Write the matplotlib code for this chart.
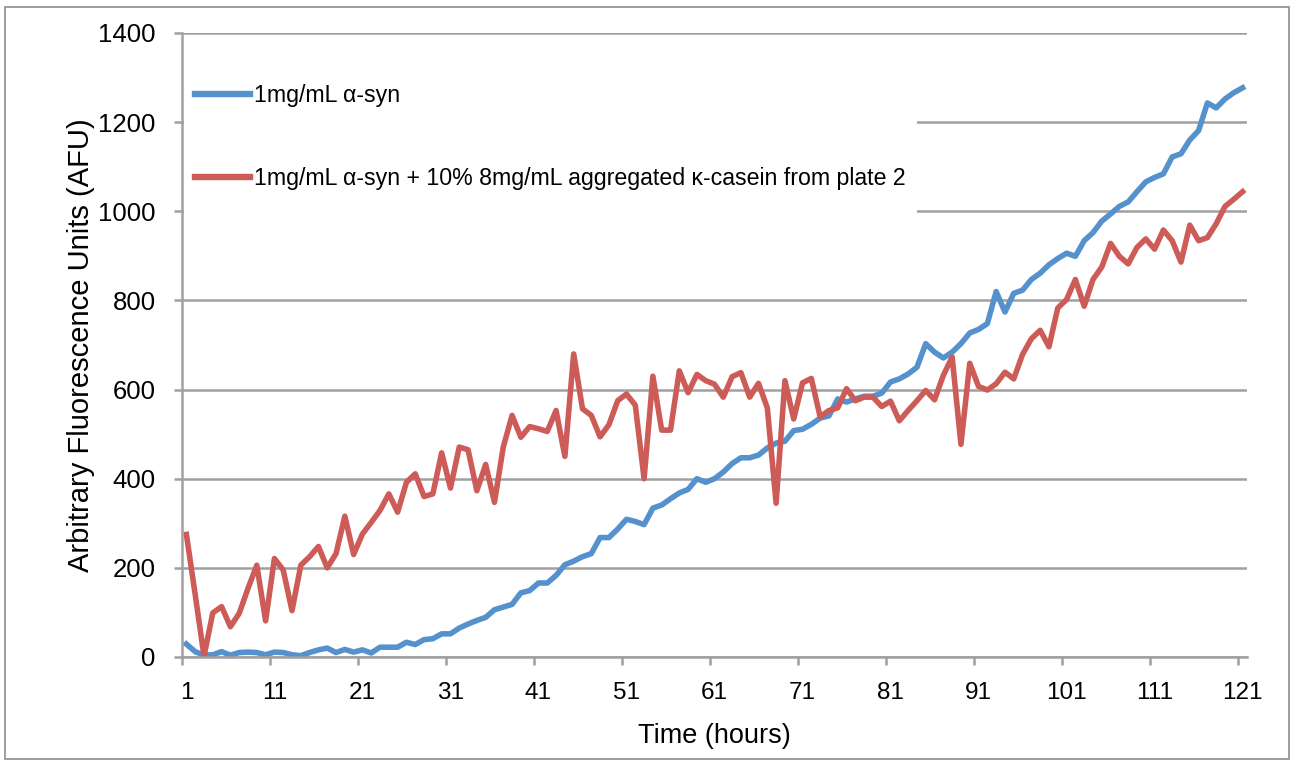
import numpy as np
import matplotlib
matplotlib.use("Agg")
import matplotlib.pyplot as plt
import matplotlib.transforms as mtransforms
from matplotlib.patches import Rectangle

plt.rcParams['font.family'] = ['Liberation Sans', 'DejaVu Sans']

# hours 1..121
hours = np.arange(1, 122)

asyn = [29, 12, 4, 5, 12, 4, 10, 11, 10, 5,
        11, 10, 5, 3, 10, 16, 20, 10, 17, 11,
        16, 9, 22, 22, 22, 33, 28, 39, 41, 52,
        52, 65, 74, 82, 89, 106, 112, 118, 144, 149,
        166, 166, 183, 207, 215, 225, 232, 268, 268, 287,
        309, 304, 297, 334, 341, 355, 368, 376, 400, 392,
        400, 415, 434, 447, 447, 453, 469, 480, 484, 508,
        511, 522, 536, 541, 579, 572, 579, 585, 585, 592,
        617, 624, 635, 650, 703, 684, 671, 684, 703, 727,
        735, 748, 820, 774, 816, 823, 847, 861, 880, 894,
        906, 899, 934, 952, 978, 994, 1011, 1021, 1044, 1066,
        1076, 1084, 1122, 1129, 1160, 1181, 1243, 1232, 1252, 1266,
        1277]

asyn_casein = [275, 140, 2, 99, 113, 68, 98, 154, 206, 81,
               221, 195, 104, 206, 225, 248, 200, 232, 316, 230,
               276, 302, 329, 366, 325, 392, 411, 360, 366, 458,
               379, 471, 465, 373, 432, 347, 471, 542, 493, 517,
               512, 506, 553, 450, 680, 557, 542, 494, 521, 575,
               590, 565, 400, 630, 509, 509, 642, 593, 634, 620,
               612, 583, 629, 638, 583, 614, 559, 345, 620, 534,
               615, 625, 539, 553, 559, 602, 575, 583, 583, 562,
               574, 530, 553, 575, 598, 577, 632, 673, 477, 659,
               607, 599, 613, 639, 624, 679, 714, 733, 696, 783,
               802, 847, 787, 847, 875, 928, 899, 882, 919, 938,
               915, 958, 934, 886, 969, 934, 941, 972, 1011, 1027,
               1044]

labels = ['1mg/mL α-syn',
          '1mg/mL α-syn + 10% 8mg/mL aggregated κ-casein from plate 2']

W, H = 1293, 765
fig = plt.figure(figsize=(W / 100, H / 100), dpi=100)
ax = fig.add_axes([182 / W, 1 - 657 / H, (1247 - 182) / W, (657 - 33) / H])

grid_col = '#A0A0A0'
ax.plot(hours, asyn, color='#5591CD', lw=4.0, label=labels[0], solid_joinstyle='round')
ax.plot(hours, asyn_casein, color='#CD5C58', lw=4.0, label=labels[1], solid_joinstyle='round')

ax.set_xlim(0.5, 121.5)
ax.set_ylim(0, 1400)
ax.set_yticks(np.arange(0, 1401, 200))
ax.yaxis.grid(True, color=grid_col, lw=1.8)
ax.set_axisbelow(True)

# category style x axis: labels on 1, 11, ..., marks between categories
ax.set_xticks(np.arange(1, 122, 10))
ax.set_xticks(np.arange(0.5, 122, 10), minor=True)
ax.tick_params(axis='x', which='major', length=0, pad=18, labelsize=17.5)
ax.tick_params(axis='x', which='minor', length=6, width=1.8, color=grid_col)
ax.tick_params(axis='y', length=6, width=1.8, color=grid_col, labelsize=18.5, pad=13)

for s in ['top', 'right']:
    ax.spines[s].set_visible(False)
for s in ['left', 'bottom']:
    ax.spines[s].set_color(grid_col)
    ax.spines[s].set_linewidth(1.8)

ax.set_xlabel('Time (hours)', fontsize=19.5, labelpad=14)
ax.set_ylabel('Arbitrary Fluorescence Units (AFU)', fontsize=21, labelpad=2)

# white block behind the legend hides the gridlines there
trans = mtransforms.blended_transform_factory(ax.transAxes, ax.transData)
ax.add_patch(Rectangle((0.002, 975), (916 - 183) / 1065, 380, transform=trans,
                       facecolor='white', edgecolor='none', zorder=1))

leg = ax.legend(loc='upper left', bbox_to_anchor=(0.0, 0.939), fontsize=16.7,
                frameon=False, handlelength=2.4, handletextpad=0.15,
                labelspacing=2.6, borderpad=0.55, borderaxespad=0)
for h in leg.get_lines():
    h.set_linewidth(4.6)

fig.patches.append(Rectangle((5 / W, 6 / H), (1289 - 5) / W, (758 - 6) / H,
                             transform=fig.transFigure, fill=False,
                             edgecolor='#8C8C8C', lw=1.2))

fig.savefig('out.png', dpi=100)
